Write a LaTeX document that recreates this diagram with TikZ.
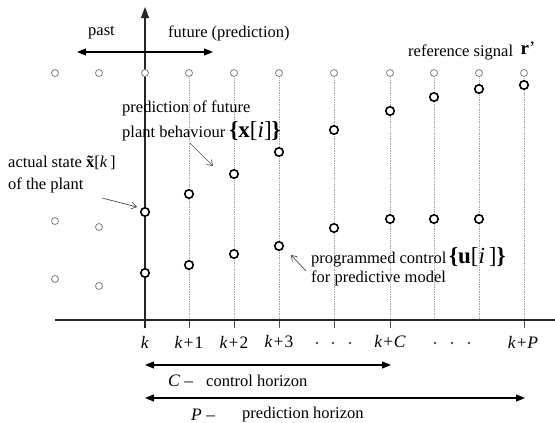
\documentclass[tikz,border=0pt]{standalone}
\usepackage{fontspec}
\setmainfont{Liberation Serif}
\usetikzlibrary{arrows.meta}
\begin{document}
\begin{tikzpicture}[x=1pt,y=-1pt,
  pastc/.style={circle,draw=gray,line width=0.8pt,fill=white,minimum size=7pt,inner sep=0pt},
  boldc/.style={circle,draw=black,line width=1.6pt,fill=white,minimum size=8.5pt,inner sep=0pt},
  gridline/.style={gray!70,line width=0.7pt,densely dotted},
  axisline/.style={black!85,line width=1.3pt},
  tickline/.style={black!70,line width=0.9pt},
  lbl/.style={font=\fontsize{16.5}{19}\selectfont,inner sep=0pt,anchor=west},
  klbl/.style={font=\fontsize{17.5}{20}\selectfont,inner sep=0pt},
  bigarrow/.style={line width=1.1pt,{Triangle[length=9pt,width=7pt]}-{Triangle[length=9pt,width=7pt]}},
  note/.style={gray!60!black,line width=0.7pt,-{Straight Barb[length=5pt,width=7pt]}},
  elip/.style={circle,fill=black!70,minimum size=2.6pt,inner sep=0pt}
]
\useasboundingbox (0,0) rectangle (555,423);

% coordinates of columns
\foreach \x [count=\i] in {55,99,145,189,234,279,334,390,434,479,524}{
  \coordinate (t\i) at (\x,73);
  \coordinate (b\i) at (\x,320);
}
% dotted grid lines
\foreach \i in {4,...,11}{ \draw[gridline] (t\i) -- (b\i); }
% ticks
\foreach \i in {4,5,6,7,8,11}{ \draw[tickline] (b\i) -- ++(0,8); }

% axes
\coordinate (hl) at (55,320);
\coordinate (hr) at (555,320);
\draw[axisline] (hl) -- (hr);
\coordinate (vb) at (145,328);
\coordinate (vt) at (145,7);
\draw[axisline,-{Triangle[length=11pt,width=8pt]}] (vb) -- (vt);

% past / future arrow
\coordinate (pa) at (77,52);
\coordinate (fu) at (213,52);
\draw[bigarrow] (pa) -- (fu);
\node[lbl] (lpast) at (88,33) {past};
\node[lbl] (lfut) at (168,33) {future (prediction)};

% top row (reference) circles
\foreach \i in {1,...,11}{ \node[pastc] (r\i) at (t\i) {}; }

% past circles
\node[pastc] (p1) at (55,221) {};
\node[pastc] (p2) at (99,227) {};
\node[pastc] (p3) at (55,279) {};
\node[pastc] (p4) at (99,286) {};

% predicted states
\node[boldc] (x0) at (145,212) {};
\node[boldc] (x1) at (189,194) {};
\node[boldc] (x2) at (234,174) {};
\node[boldc] (x3) at (279,152) {};
\node[boldc] (x4) at (334,130) {};
\node[boldc] (x5) at (390,111) {};
\node[boldc] (x6) at (434,97) {};
\node[boldc] (x7) at (479,89) {};
\node[boldc] (x8) at (524,85) {};

% programmed control
\node[boldc] (u0) at (145,273) {};
\node[boldc] (u1) at (189,265) {};
\node[boldc] (u2) at (234,254) {};
\node[boldc] (u3) at (279,246) {};
\node[boldc] (u4) at (334,228) {};
\node[boldc] (u5) at (390,219) {};
\node[boldc] (u6) at (434,219) {};
\node[boldc] (u7) at (479,219) {};

% reference signal label
\node[lbl] (lref) at (408,52) {reference signal};
\node[inner sep=0pt,font=\fontsize{19}{20}\selectfont] (lr) at (528,48) {\textbf{r}’};

% prediction label
\node[lbl] (lpred1) at (122,108) {prediction of future};
\node[lbl] (lpred2) at (122,131) {plant behaviour {\fontsize{23}{24}\selectfont\textbf{\{x}[\textit{i}]\textbf{\}}}};
\coordinate (ap1) at (190,143);
\coordinate (ap2) at (213,166);
\draw[note] (ap1) -- (ap2);

% actual state label
\node[lbl] (lact1) at (8,163) {actual state {\ooalign{\textbf{x}\cr\hidewidth\textbf{\char"02DC}\hidewidth\cr}}[\textit{k}\,]};
\node[lbl] (lact2) at (8,185) {of the plant};
\coordinate (aa1) at (102,198);
\coordinate (aa2) at (137,207);
\draw[note] (aa1) -- (aa2);

% programmed control label
\node[lbl] (lprog1) at (311,257) {programmed control\,{\fontsize{23}{24}\selectfont\textbf{\{u}[\textit{i}\,]\textbf{\}}}};
\node[lbl] (lprog2) at (311,278) {for predictive model};
\coordinate (ac1) at (306,271);
\coordinate (ac2) at (291,255);
\draw[note] (ac1) -- (ac2);

% step labels
\node[klbl] (k0) at (145,342) {\textit{k}};
\node[klbl] (k1) at (189,342) {\textit{k}\kern1pt+\kern1pt1};
\node[klbl] (k2) at (234,342) {\textit{k}\kern1pt+\kern1pt2};
\node[klbl] (k3) at (279,342) {\textit{k}\kern1pt+\kern1pt3};
\node[klbl] (kC) at (390,342) {\textit{k}\kern1pt+\kern0.5pt\textit{C}};
\node[klbl] (kP) at (523,342) {\textit{k}\kern1pt+\kern0.5pt\textit{P}};
\foreach \x [count=\j] in {317,333,350,435,452,469}{ \node[elip] (e\j) at (\x,343) {}; }

% horizons
\coordinate (c1) at (145,365);
\coordinate (c2) at (391,365);
\draw[bigarrow] (c1) -- (c2);
\node[klbl,anchor=west] (lC) at (168,381) {\textit{C} –};
\node[lbl] (lCt) at (206,381) {control horizon};
\coordinate (q1) at (145,398);
\coordinate (q2) at (525,398);
\draw[bigarrow] (q1) -- (q2);
\node[klbl,anchor=west] (lP) at (191,415) {\textit{P} –};
\node[lbl] (lPt) at (242,415) {prediction horizon};
\end{tikzpicture}
\end{document}
